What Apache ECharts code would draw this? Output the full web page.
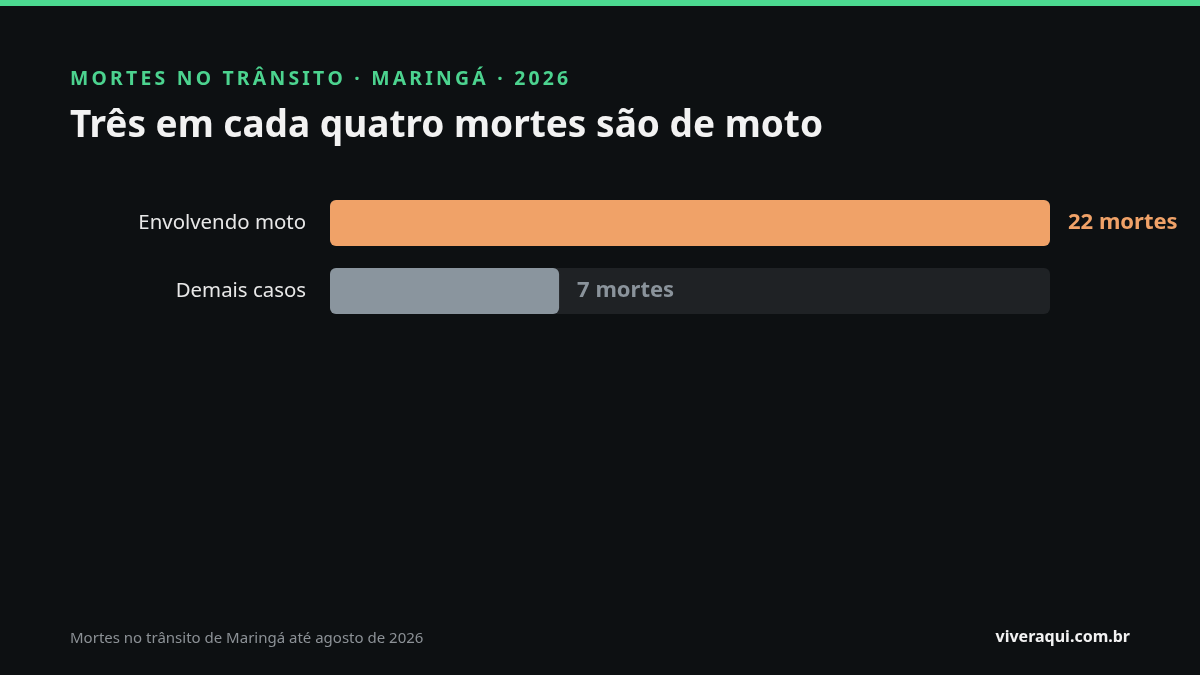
<!DOCTYPE html>
<html>
<head>
<meta charset="utf-8">
<script src="https://cdn.jsdelivr.net/npm/echarts@6/dist/echarts.min.js"></script>
<style>
  html, body { margin: 0; padding: 0; background: #0d1012; }
  #chart { width: 1200px; height: 675px; }
</style>
</head>
<body>
<div id="chart"></div>
<script>
const categories = ["Envolvendo moto", "Demais casos"];
const values = [22, 7];
const barColors = ["#f0a268", "#8a959e"];
const labelColors = ["#f0a268", "#8a939b"];
const axisMax = 22;

const kicker = "MORTES NO TRÂNSITO · MARINGÁ · 2026";
const headline = "Três em cada quatro mortes são de moto";
const note = "Mortes no trânsito de Maringá até agosto de 2026";
const brand = "viveraqui.com.br";

// letter-spaced kicker using thin spaces
const spaced = kicker.split("").join("\u2009");

const chart = echarts.init(document.getElementById("chart"));
const font = "Noto Sans";

chart.setOption({
  backgroundColor: "#0d1012",
  textStyle: { fontFamily: font },
  graphic: [
    { type: "rect", left: 0, top: 0, shape: { width: 1200, height: 6 }, style: { fill: "#4cd990" } },
    {
      type: "text", left: 70, top: 70,
      style: { text: spaced, fill: "#4cd38f", font: `bold 19.4px '${font}'` },
    },
    {
      type: "text", left: 70, top: 108,
      style: { text: headline, fill: "#f2f2f2", font: `bold 37px '${font}'` },
    },
    {
      type: "text", left: 70, top: 631,
      style: { text: note, fill: "#8c9196", font: `15px '${font}'` },
    },
    {
      type: "text", right: 70, top: 629,
      style: { text: brand, fill: "#f2f2f2", font: `bold 16px '${font}'` },
    },
  ],
  grid: { left: 330, right: 150, top: 189, bottom: 350 },
  xAxis: { type: "value", min: 0, max: axisMax, show: false },
  yAxis: {
    type: "category",
    data: categories,
    inverse: true,
    axisLine: { show: false },
    axisTick: { show: false },
    axisLabel: { color: "#e8e8e8", fontSize: 20.4, margin: 24, fontFamily: font, padding: [3, 0, 0, 0] },
  },
  series: [
    {
      type: "bar",
      barWidth: 46,
      showBackground: true,
      backgroundStyle: { color: "#1f2225", borderRadius: 6 },
      data: values.map((v, i) => ({
        value: v,
        itemStyle: { color: barColors[i], borderRadius: 6 },
        label: { color: labelColors[i] },
      })),
      label: {
        show: true,
        position: "right",
        distance: 18,
        formatter: "{c} mortes",
        fontSize: 22,
        fontWeight: "bold",
        fontFamily: font,
        padding: [3, 0, 0, 0],
      },
    },
  ],
});

window.addEventListener("resize", () => chart.resize());
</script>
</body>
</html>
